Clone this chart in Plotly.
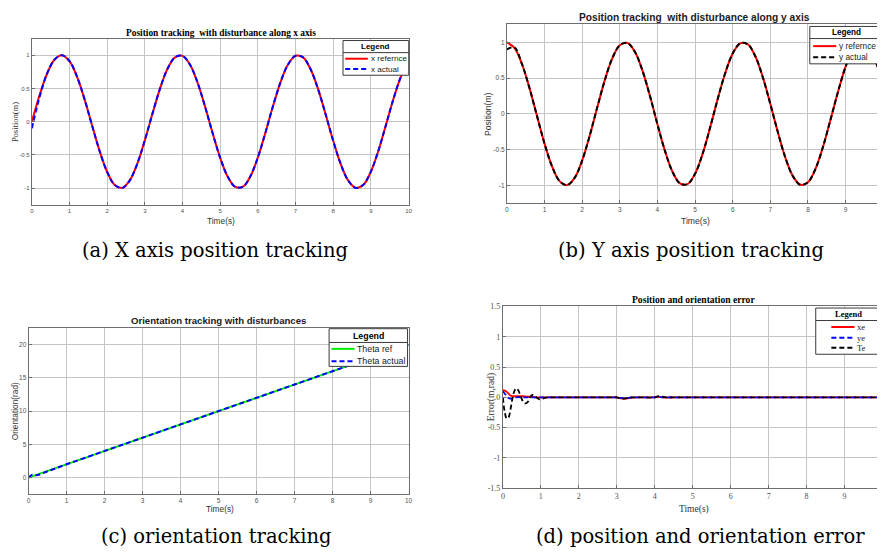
import plotly.graph_objects as go

# ---------------- data ----------------
t = [0.0, 0.2, 0.4, 0.6, 0.8, 1.0, 1.2, 1.4, 1.6, 1.8, 2.0, 2.2, 2.4, 2.6, 2.8, 3.0,
     3.2, 3.4, 3.6, 3.8, 4.0, 4.2, 4.4, 4.6, 4.8, 5.0, 5.2, 5.4, 5.6, 5.8, 6.0, 6.2,
     6.4, 6.6, 6.8, 7.0, 7.2, 7.4, 7.6, 7.8, 8.0, 8.2, 8.4, 8.6, 8.8, 9.0, 9.2, 9.4,
     9.6, 9.8, 10.0]

x_ref = [0.0, 0.389, 0.717, 0.932, 1.0, 0.909, 0.675, 0.335, -0.058, -0.443, -0.757,
         -0.952, -0.996, -0.883, -0.631, -0.279, 0.117, 0.494, 0.794, 0.968, 0.989,
         0.855, 0.585, 0.223, -0.175, -0.544, -0.828, -0.981, -0.979, -0.823, -0.537,
         -0.166, 0.231, 0.592, 0.859, 0.991, 0.966, 0.788, 0.486, 0.108, -0.288,
         -0.638, -0.887, -0.997, -0.950, -0.751, -0.435, -0.049, 0.344, 0.682, 0.913]
x_act = [-0.10, 0.36, 0.717, 0.932, 1.0, 0.909, 0.675, 0.335, -0.058, -0.443, -0.757,
         -0.952, -0.996, -0.883, -0.631, -0.279, 0.117, 0.494, 0.794, 0.968, 0.989,
         0.855, 0.585, 0.223, -0.175, -0.544, -0.828, -0.981, -0.979, -0.823, -0.537,
         -0.166, 0.231, 0.592, 0.859, 0.991, 0.966, 0.788, 0.486, 0.108, -0.288,
         -0.638, -0.887, -0.997, -0.950, -0.751, -0.435, -0.049, 0.344, 0.682, 0.913]

y_ref = [1.0, 0.921, 0.697, 0.362, -0.029, -0.416, -0.737, -0.942, -0.998, -0.897,
         -0.654, -0.307, 0.087, 0.468, 0.776, 0.960, 0.993, 0.869, 0.608, 0.252,
         -0.146, -0.519, -0.811, -0.975, -0.985, -0.839, -0.561, -0.193, 0.203, 0.568,
         0.844, 0.986, 0.973, 0.806, 0.512, 0.137, -0.258, -0.615, -0.874, -0.994,
         -0.958, -0.770, -0.461, -0.079, 0.312, 0.660, 0.900, 0.999, 0.939, 0.731, 0.408]
y_act = [0.90, 0.93, 0.697, 0.362, -0.029, -0.416, -0.737, -0.942, -0.998, -0.897,
         -0.654, -0.307, 0.087, 0.468, 0.776, 0.960, 0.993, 0.869, 0.608, 0.252,
         -0.146, -0.519, -0.811, -0.975, -0.985, -0.839, -0.561, -0.193, 0.203, 0.568,
         0.844, 0.986, 0.973, 0.806, 0.512, 0.137, -0.258, -0.615, -0.874, -0.994,
         -0.958, -0.770, -0.461, -0.079, 0.312, 0.660, 0.900, 0.999, 0.939, 0.731, 0.408]

t_theta = [0, 1, 2, 3, 4, 5, 6, 7, 8, 9, 10]
theta_ref = [0, 2, 4, 6, 8, 10, 12, 14, 16, 18, 20]
t_theta_act = [0, 0.1, 0.2, 0.5, 1, 2, 3, 4, 5, 6, 7, 8, 9, 10]
theta_act = [0.0, 0.45, 0.35, 0.95, 2.0, 4, 6, 8, 10, 12, 14, 16, 18, 20]

t_err = [0, 0.05, 0.1, 0.15, 0.2, 0.25, 0.3, 0.35, 0.4, 0.45, 0.5, 0.55, 0.6, 0.65,
         0.7, 0.75, 0.8, 0.85, 0.9, 0.95, 1.0, 1.1, 1.2, 1.4, 2.0, 2.9, 3.0, 3.1, 3.2,
         3.3, 3.4, 3.6, 4.0, 4.1, 4.2, 4.3, 4.5, 5, 6, 7, 8, 9, 10]
xe = [0.12, 0.11, 0.09, 0.06, 0.03, 0.02, 0.02, 0.02, 0.02, 0.02, 0.02, 0.02, 0.015,
      0.01, 0.01, 0.01, 0.005, 0, 0, 0, 0, 0, 0, 0, 0, 0, 0, -0.015, -0.02, -0.015,
      -0.005, 0, 0, 0.005, 0, -0.005, 0, 0, 0, 0, 0, 0, 0]
ye = [0.10, 0.06, 0.02, -0.01, -0.02, -0.02, -0.01, 0, 0.005, 0, -0.005, 0, 0, 0,
      0, 0, 0, 0, 0, 0, 0, 0, 0, 0, 0, 0, 0, -0.01, -0.015, -0.01, 0, 0, 0, 0.01, 0,
      0, 0, 0, 0, 0, 0, 0, 0]
Te = [0.0, -0.25, -0.35, -0.33, -0.2, -0.02, 0.1, 0.15, 0.12, 0.05, -0.03, -0.09,
      -0.1, -0.08, -0.02, 0.03, 0.04, 0.02, -0.01, -0.03, -0.03, -0.01, 0, 0, 0, 0, 0,
      -0.02, -0.02, -0.01, 0, 0, 0, 0.02, 0.01, 0, 0, 0, 0, 0, 0, 0, 0]

x_ticks = [0, 1, 2, 3, 4, 5, 6, 7, 8, 9, 10]
pos_ticks = [-1, -0.5, 0, 0.5, 1]
pos_tick_text = ["-1", "-0.5", "0", "0.5", "1"]
theta_ticks = [0, 5, 10, 15, 20]
err_ticks = [-1.5, -1, -0.5, 0, 0.5, 1, 1.5]
err_tick_text = ["-1.5", "-1", "-0.5", "0", "0.5", "1", "1.5"]

# ---------------- layout helpers (window pixel -> paper) ----------------
# the page body has an 8px margin, so the figure is placed at (8, 8)
OFF = 8
W, H = 885 - OFF, 554 - OFF
def X(px):
    return (px - OFF) / W
def Y(py):
    return 1 - (py - OFF) / H

SANS = "Liberation Sans, Arial, sans-serif"
SERIF = "Liberation Serif, Times New Roman, serif"
CAP = "DejaVu Serif, serif"
GRID = "#c4c4c4"
AXC = "#6e6e6e"
TICKC = "#505050"

fig = go.Figure()

RED, BLUE, BLACK, GREEN = "#ff0000", "#0000ff", "#000000", "#00ee00"
DASH = "5px,3px"

# (a)
fig.add_trace(go.Scatter(x=t, y=x_ref, mode="lines", line=dict(color=RED, width=2, shape="spline"),
                         xaxis="x", yaxis="y", showlegend=False, name="x refernce"))
fig.add_trace(go.Scatter(x=t, y=x_act, mode="lines", line=dict(color=BLUE, width=2, dash=DASH, shape="spline"),
                         xaxis="x", yaxis="y", showlegend=False, name="x actual"))
# (b)
fig.add_trace(go.Scatter(x=t, y=y_ref, mode="lines", line=dict(color=RED, width=2, shape="spline"),
                         xaxis="x2", yaxis="y2", showlegend=False, name="y refernce"))
fig.add_trace(go.Scatter(x=t, y=y_act, mode="lines", line=dict(color=BLACK, width=2, dash=DASH, shape="spline"),
                         xaxis="x2", yaxis="y2", showlegend=False, name="y actual"))
# (c)
fig.add_trace(go.Scatter(x=t_theta, y=theta_ref, mode="lines", line=dict(color=GREEN, width=2),
                         xaxis="x3", yaxis="y3", showlegend=False, name="Theta ref"))
fig.add_trace(go.Scatter(x=t_theta_act, y=theta_act, mode="lines", line=dict(color=BLUE, width=2, dash=DASH, shape="spline"),
                         xaxis="x3", yaxis="y3", showlegend=False, name="Theta actual"))
# (d)
fig.add_trace(go.Scatter(x=t_err, y=xe, mode="lines", line=dict(color=RED, width=1.8, shape="spline"),
                         xaxis="x4", yaxis="y4", showlegend=False, name="xe"))
fig.add_trace(go.Scatter(x=t_err, y=ye, mode="lines", line=dict(color=BLUE, width=1.8, dash=DASH, shape="spline"),
                         xaxis="x4", yaxis="y4", showlegend=False, name="ye"))
fig.add_trace(go.Scatter(x=t_err, y=Te, mode="lines", line=dict(color=BLACK, width=1.8, dash=DASH, shape="spline"),
                         xaxis="x4", yaxis="y4", showlegend=False, name="Te"))


def axis(domain, rng, tickvals, ticktext=None, font=SANS, size=6, mirror=True, anchor=None):
    d = dict(domain=domain, range=rng, tickvals=tickvals, showgrid=True, gridcolor=GRID,
             gridwidth=1, zeroline=False, showline=True, linecolor=AXC, linewidth=1,
             mirror=mirror, ticks="inside", ticklen=3, tickcolor=AXC,
             tickfont=dict(family=font, size=size, color=TICKC), fixedrange=True)
    if ticktext is not None:
        d["ticktext"] = ticktext
    if anchor:
        d["anchor"] = anchor
    return d

layout = dict(
    width=W, height=H, margin=dict(l=0, r=0, t=0, b=0),
    paper_bgcolor="white", plot_bgcolor="white", showlegend=False,
    xaxis=axis([X(30), X(409.3)], [0, 10], x_ticks, size=6, anchor="y"),
    yaxis=axis([Y(204), Y(35)], [-1.25, 1.25], pos_ticks, pos_tick_text, size=6, anchor="x"),
    xaxis2=axis([X(508.3), 1.0], [0, 9.94], x_ticks, size=6.5, anchor="y2"),
    yaxis2=axis([Y(202.3), Y(20.7)], [-1.25, 1.25], pos_ticks, pos_tick_text, size=6.5, mirror=False, anchor="x2"),
    xaxis3=axis([X(26.7), X(409.3)], [0, 10], x_ticks, size=6.5, anchor="y3"),
    yaxis3=axis([Y(498.3), Y(329.3)], [-2.5, 22.5], theta_ticks, size=6.5, anchor="x3"),
    xaxis4=axis([X(504.3), 1.0], [0, 9.96], x_ticks, font=SERIF, size=8, anchor="y4"),
    yaxis4=axis([Y(492.3), Y(307.3)], [-1.5, 1.5], err_ticks, err_tick_text, font=SERIF, size=8, mirror=False, anchor="x4"),
)
fig.update_layout(**layout)

ann = []
def text(px, py, s, family, size, color="#000000", xanchor="center", textangle=0, bold=False):
    if bold:
        s = "<b>" + s + "</b>"
    ann.append(dict(x=X(px), y=Y(py), xref="paper", yref="paper", text=s, showarrow=False,
                    xanchor=xanchor, yanchor="middle", textangle=textangle,
                    font=dict(family=family, size=size, color=color)))

# titles
text(220, 29.5, "Position tracking&nbsp; with disturbance along x axis", SERIF, 9.4, bold=True)
text(697, 14, "Position tracking&nbsp; with disturbance along y axis", SANS, 10.2, "#1a1a1a", bold=True)
text(218, 322, "Orientation tracking with disturbances", SANS, 9.6, "#1a1a1a", bold=True)
text(696, 300.5, "Position and orientation error", SERIF, 9.6, bold=True)

# axis labels
text(220, 220, "Time(s)", SANS, 8.3, "#333333")
text(13, 120, "Position(m)", SERIF, 8.5, "#333333", textangle=-90)
text(698, 220, "Time(s)", SANS, 8.6, "#333333")
text(490, 112, "Position(m)", SANS, 8.6, "#333333", textangle=-90)
text(219, 513, "Time(s)", SANS, 8.3, "#333333")
text(13, 414, "Orientation(rad)", SANS, 8.3, "#333333", textangle=-90)
text(697, 513.5, "Time(s)", SERIF, 9.5, "#333333")
text(493, 400, "Error(m,rad)", SERIF, 9.5, "#333333", textangle=-90)

# captions
text(214, 250, "(a) X axis position tracking", CAP, 19.5)
text(694, 250, "(b) Y axis position tracking", CAP, 19.5)
text(216, 541.5, "(c) orientation tracking", CAP, 19.5)
text(703, 541.5, "(d) position and orientation error", CAP, 19.5)

# ---------------- legends (drawn boxes) ----------------
shapes = []
def legend_box(x0, y0, x1, y1, ydiv, header_x, header_y, font, hsize, entries, lx0, lx1, tx, tsize):
    shapes.append(dict(type="rect", xref="paper", yref="paper", x0=X(x0), x1=X(x1), y0=Y(y1), y1=Y(y0),
                       line=dict(color="#3a3a3a", width=1), fillcolor="white", layer="above"))
    shapes.append(dict(type="line", xref="paper", yref="paper", x0=X(x0), x1=X(x1), y0=Y(ydiv), y1=Y(ydiv),
                       line=dict(color="#3a3a3a", width=1), layer="above"))
    text(header_x, header_y, "Legend", font, hsize, "#000000", bold=True)
    for (ey, label, color, dash) in entries:
        shapes.append(dict(type="line", xref="paper", yref="paper", x0=X(lx0), x1=X(lx1), y0=Y(ey), y1=Y(ey),
                           line=dict(color=color, width=2, dash=dash), layer="above"))
        text(tx, ey, label, font, tsize, "#1a1a1a", xanchor="left")

legend_box(343.3, 37, 409.5, 72.3, 49.3, 376.5, 43.5, SANS, 8,
           [(55.5, "x refernce", RED, "solid"), (66, "x actual", BLUE, DASH)],
           345.5, 368.3, 369.5, 8.1)
legend_box(813.3, 22.7, 900, 60.7, 35, 850, 29, SANS, 8.2,
           [(42.7, "y refernce", RED, "solid"), (54, "y actual", BLACK, DASH)],
           816.7, 840, 841, 8.3)
legend_box(329.3, 330, 408.3, 368.3, 344, 368.7, 337.5, SANS, 8.8,
           [(350.5, "Theta ref", GREEN, "solid"), (363, "Theta actual", BLUE, DASH)],
           331.7, 355, 355.5, 8.8)
legend_box(819.3, 309, 900, 356, 321.7, 852.7, 315.5, SERIF, 8.5,
           [(328.3, "xe", RED, "solid"), (339.3, "ye", BLUE, DASH), (349.3, "Te", BLACK, DASH)],
           835, 858.3, 858.8, 8.5)

fig.update_layout(annotations=ann, shapes=shapes)
fig.write_html("out.html")
